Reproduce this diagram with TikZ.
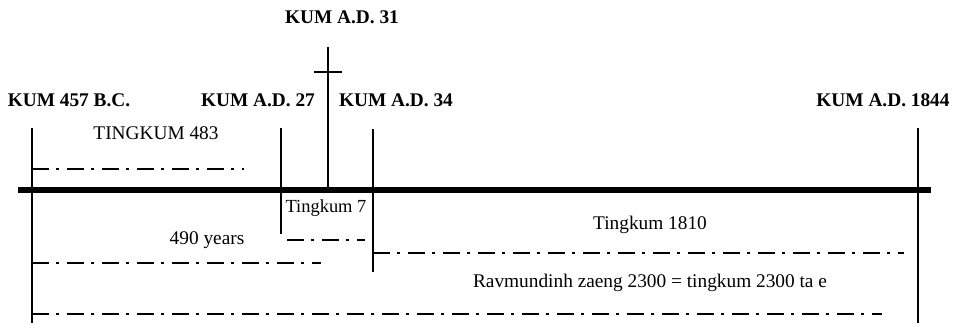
\documentclass[tikz,border=0pt]{standalone}
\usepackage{fontspec}
\setmainfont{Liberation Serif}
\usetikzlibrary{positioning}

\begin{document}
\begin{tikzpicture}[x=0.02cm, y=-0.02cm,
        datelabel/.style={font=\fontsize{11}{13}\selectfont\bfseries, inner sep=0pt, anchor=base},
        spanlabel/.style={font=\fontsize{11}{13}\selectfont, inner sep=0pt, anchor=base},
        ticksline/.style={line width=1.6pt},
        spanline/.style={line width=1.1pt, dash pattern=on 0.34cm off 0.14cm on 0.06cm off 0.16cm}]
    \useasboundingbox (0,0) rectangle (960,323);

    % time axis
    \coordinate (axisw) at (18,190);
    \coordinate (axise) at (931,190);
    \draw[line width=2.9pt] (axisw) -- (axise);

    % event ticks
    \coordinate (bc457) at (32,128);
    \coordinate (bc457end) at (32,323);
    \coordinate (ad27) at (281,128);
    \coordinate (ad27end) at (281,234);
    \coordinate (ad31) at (328,47);
    \coordinate (ad31end) at (328,190);
    \coordinate (ad34) at (373,129);
    \coordinate (ad34end) at (373,272);
    \coordinate (ad1844) at (918,128);
    \coordinate (ad1844end) at (918,323);
    \coordinate (crossw) at (314,72);
    \coordinate (crosse) at (342,72);

    \draw[ticksline] (bc457) -- (bc457end);
    \draw[ticksline] (ad27) -- (ad27end);
    \draw[ticksline] (ad31) -- (ad31end);
    \draw[ticksline] (crossw) -- (crosse);
    \draw[ticksline] (ad34) -- (ad34end);
    \draw[ticksline] (ad1844) -- (ad1844end);

    \node[datelabel] (lbc457) at (69,107) {KUM 457 B.C.};
    \node[datelabel] (lad27) at (258,107) {KUM A.D. 27};
    \node[datelabel] (lad31) at (342,24) {KUM A.D. 31};
    \node[datelabel] (lad34) at (396,107) {KUM A.D. 34};
    \node[datelabel] (lad1844) at (883,107) {KUM A.D. 1844};

    % periods
    \coordinate (w483) at (32,169);
    \coordinate (e483) at (244,169);
    \coordinate (w7) at (287,240);
    \coordinate (e7) at (365,240);
    \coordinate (w490) at (32,263);
    \coordinate (e490) at (321,263);
    \coordinate (w1810) at (373,253);
    \coordinate (e1810) at (904,253);
    \coordinate (w2300) at (32,314);
    \coordinate (e2300) at (882,314);

    \draw[spanline] (w483) -- (e483);
    \draw[spanline] (w7) -- (e7);
    \draw[spanline] (w490) -- (e490);
    \draw[spanline] (w1810) -- (e1810);
    \draw[spanline] (w2300) -- (e2300);

    \node[spanlabel] (t483) at (156,140) {TINGKUM 483};
    \node[spanlabel, font=\fontsize{10.5}{12}\selectfont] (t7) at (326,213) {Tingkum 7};
    \node[spanlabel] (t490) at (207,245) {490 years};
    \node[spanlabel] (t1810) at (650,230) {Tingkum 1810};
    \node[spanlabel] (t2300) at (650,288) {Ravmundinh zaeng 2300 = tingkum 2300 ta e};
\end{tikzpicture}
\end{document}
